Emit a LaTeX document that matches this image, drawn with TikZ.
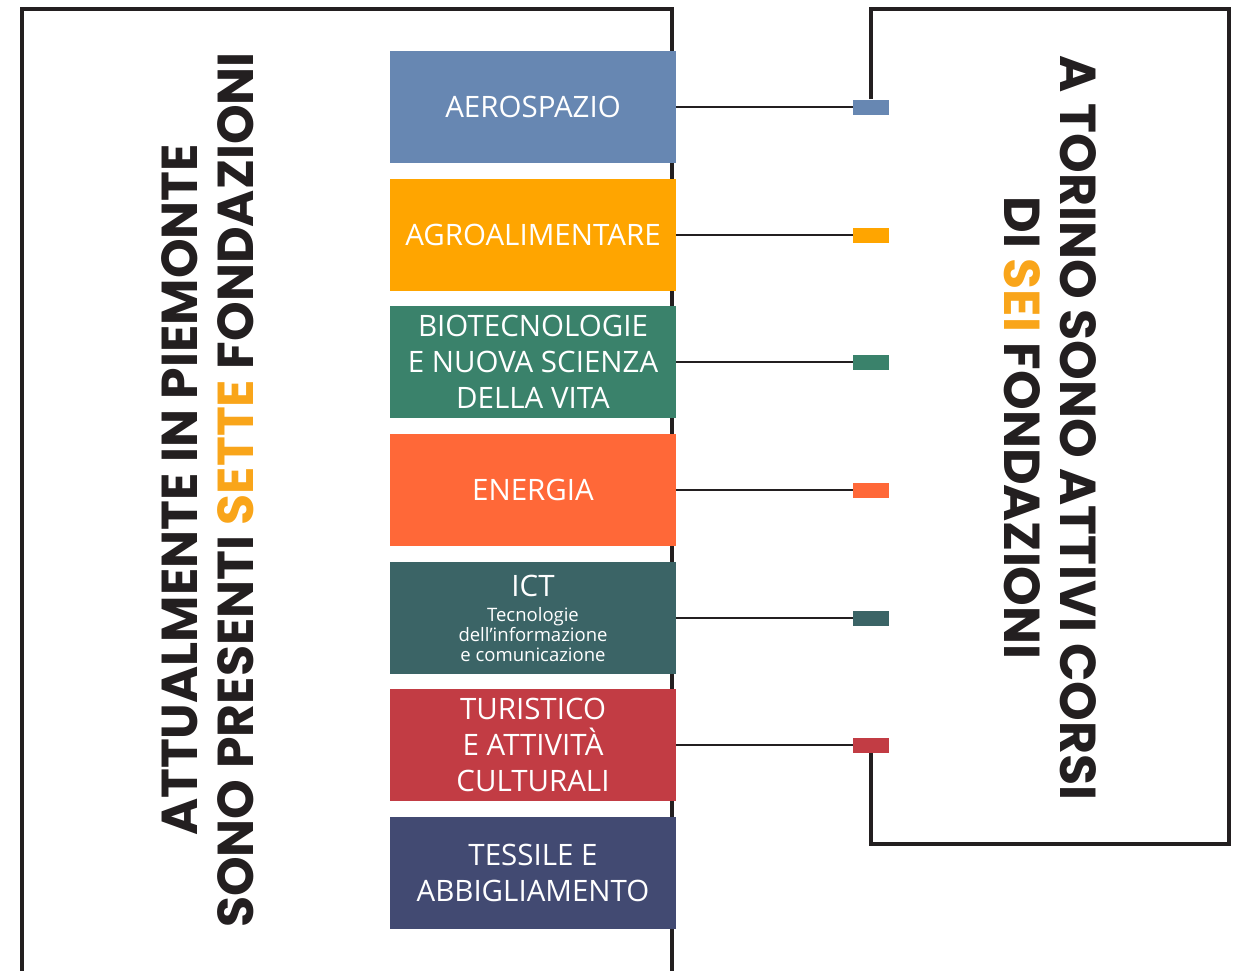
\documentclass[tikz,border=0pt]{standalone}
\usepackage{fontspec}
\setmainfont{Open Sans}
\newfontfamily\headfont{Poppins}

\definecolor{ink}{HTML}{231F20}
\definecolor{gold}{HTML}{F9A51A}
\definecolor{aerocol}{HTML}{6787B2}
\definecolor{agrocol}{HTML}{FFA500}
\definecolor{biocol}{HTML}{3A826B}
\definecolor{energycol}{HTML}{FF6838}
\definecolor{ictcol}{HTML}{3B6466}
\definecolor{turcol}{HTML}{C23C44}
\definecolor{tesscol}{HTML}{424A72}

\newcommand{\ictsmall}{\fontsize{18.5}{20}\selectfont}

\begin{document}
\begin{tikzpicture}[
    x=1pt, y=-1pt,
    sector/.style={rectangle, minimum width=286pt, minimum height=112pt,
                   inner sep=0pt, text=white, align=center,
                   font=\fontsize{29.5}{36}\selectfont},
    tag/.style={rectangle, minimum width=36pt, minimum height=15pt,
                inner sep=0pt},
    link/.style={line width=2pt, draw=ink},
    frame/.style={line width=4.5pt, draw=ink},
    headline/.style={align=center, text=ink,
                     font=\headfont\bfseries\fontsize{50.5}{56}\selectfont},
]
\useasboundingbox (0,0) rectangle (1239,970);

% Left frame (behind the boxes)
\draw[frame] (22,980) |- (672,9) -- (672,980);

% Sector boxes
\node[sector, fill=aerocol]   (aero)   at (533,107) {AEROSPAZIO};
\node[sector, fill=agrocol]   (agro)   at (533,235) {AGROALIMENTARE};
\node[sector, fill=biocol]    (bio)    at (533,362) {BIOTECNOLOGIE\\E NUOVA SCIENZA\\DELLA VITA};
\node[sector, fill=energycol] (energy) at (533,490) {ENERGIA};
\node[sector, fill=ictcol]    (ict)    at (533,618) {ICT\\[-11pt]\ictsmall Tecnologie\\[-16pt]\ictsmall dell'informazione\\[-16pt]\ictsmall e comunicazione};
\node[sector, fill=turcol]    (tur)    at (533,745) {TURISTICO\\E ATTIVITÀ\\CULTURALI};
\node[sector, fill=tesscol]   (tess)   at (533,873) {TESSILE E\\ABBIGLIAMENTO};

% Small tags on the right frame
\node[tag, fill=aerocol]   (taero)   at (871,107) {};
\node[tag, fill=agrocol]   (tagro)   at (871,235) {};
\node[tag, fill=biocol]    (tbio)    at (871,362) {};
\node[tag, fill=energycol] (tenergy) at (871,490) {};
\node[tag, fill=ictcol]    (tict)    at (871,618) {};
\node[tag, fill=turcol]    (ttur)    at (871,745) {};

% Connectors
\draw[link] (aero)   -- (taero);
\draw[link] (agro)   -- (tagro);
\draw[link] (bio)    -- (tbio);
\draw[link] (energy) -- (tenergy);
\draw[link] (ict)    -- (tict);
\draw[link] (tur)    -- (ttur);

% Right frame, open between the first and last tag
\draw[frame] (taero.north) |- (1229,9) |- (871,844) -- (ttur.south);

% Rotated headlines
\node[headline, rotate=90] (lefttext) at (208,490)
      {ATTUALMENTE IN PIEMONTE\\SONO PRESENTI \textcolor{gold}{SETTE} FONDAZIONI};
\node[headline, rotate=-90] (righttext) at (1050,428)
      {A TORINO SONO ATTIVI CORSI\\DI \textcolor{gold}{SEI} FONDAZIONI};

\end{tikzpicture}
\end{document}
